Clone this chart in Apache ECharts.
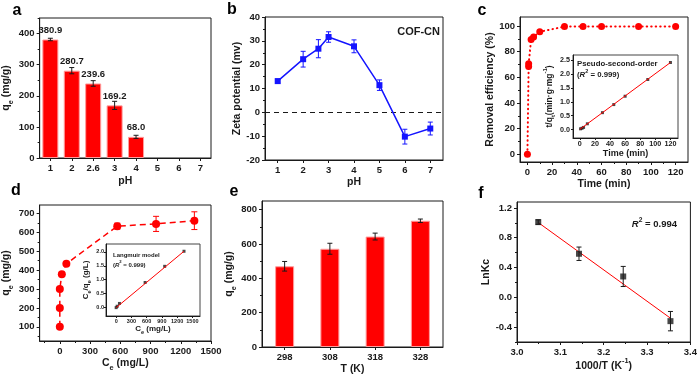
<!DOCTYPE html>
<html>
<head>
<meta charset="utf-8">
<script src="https://cdn.jsdelivr.net/npm/echarts@6/dist/echarts.min.js"></script>
<style>
  html, body { margin: 0; padding: 0; background: #fff; }
  #chart { width: 700px; height: 378px; }
</style>
</head>
<body>
<div id="chart"></div>
<script>
// values
const phLabels = ['1', '2', '2.6', '3', '4', '5', '6', '7'];
const qePh = [380.9, 280.7, 239.6, 169.2, 68.0];
const qePhErr = [4, 10, 9, 13, 5];

const zetaPh = [1, 2, 2.6, 3, 4, 5, 6, 7];
const zeta = [13.1, 22.3, 26.7, 31.6, 27.7, 11.4, -10.2, -6.8];
const zetaErr = [0.8, 3.3, 3.8, 2.2, 2.7, 2.2, 3.1, 2.7];

const kinTime = [0, 1, 1, 3, 5, 10, 30, 45, 60, 90, 120];
const kinRemoval = [0, 68.5, 70.5, 89.5, 91.5, 95.5, 99.5, 99.5, 99.5, 99.5, 99.5];

const psoTime = [1, 3, 5, 10, 30, 45, 60, 90, 120];
const psoTq = [0.03, 0.05, 0.08, 0.21, 0.61, 0.9, 1.2, 1.8, 2.41];
const psoFitX = [0, 120];
const psoFitY = [0.01, 2.41];

const isoCe = [0, 0, 0, 20, 65, 570, 955, 1335];
const isoQe = [100, 200, 300, 378, 434, 633, 645, 662];
const isoErr = [0, 0, 0, 0, 0, 16, 40, 47];

const lgCe = [0, 20, 65, 570, 955, 1335];
const lgRatio = [0, 0.05, 0.15, 0.9, 1.48, 2.02];
const lgFitX = [0, 1335];
const lgFitY = [0, 2.02];

const tempLabels = ['298', '308', '318', '328'];
const qeTemp = [470, 572, 643, 735];
const qeTempErr = [28, 32, 20, 10];

const invT = [3.049, 3.143, 3.245, 3.354];
const lnKc = [1.01, 0.585, 0.28, -0.32];
const lnKcErr = [0.03, 0.09, 0.135, 0.13];
const vhFitX = [3.05, 3.354];
const vhFitY = [1.0, -0.28];

// tick values
const aYTicks = [0, 100, 200, 300, 400];
const aYMinor = [50, 150, 250, 350, 450];
const bXTicks = [1, 2, 3, 4, 5, 6, 7];
const bYTicks = [-20, -10, 0, 10, 20, 30, 40];
const bYMinor = [-15, -5, 5, 15, 25, 35];
const cXTicks = [0, 20, 40, 60, 80, 100, 120];
const cXMinor = [10, 30, 50, 70, 90, 110];
const cYTicks = [0, 20, 40, 60, 80, 100];
const cYMinor = [10, 30, 50, 70, 90];
const ciXTicks = [0, 20, 40, 60, 80, 100, 120];
const ciYTicks = [0, 0.5, 1, 1.5, 2, 2.5];
const dXTicks = [0, 300, 600, 900, 1200, 1500];
const dXMinor = [-150, 150, 450, 750, 1050, 1350];
const dYTicks = [100, 200, 300, 400, 500, 600, 700];
const dYMinor = [50, 150, 250, 350, 450, 550, 650];
const diXTicks = [0, 300, 600, 900, 1200, 1500];
const diYTicks = [0, 0.5, 1, 1.5, 2];
const eYTicks = [0, 200, 400, 600, 800];
const eYMinor = [100, 300, 500, 700];
const fXTicks = [3.0, 3.1, 3.2, 3.3, 3.4];
const fXMinor = [3.05, 3.15, 3.25, 3.35];
const fYTicks = [-0.4, 0, 0.4, 0.8, 1.2];
const fYMinor = [-0.6, -0.2, 0.2, 0.6, 1.0];

const FONT = '"Liberation Sans", Arial, sans-serif';
const INK = '#1a1a1a';
const RED = '#ff0000';
const BLUE = '#1414ff';

const one = v => v.toFixed(1);
const plain = v => String(v);

function rich(fs) {
  const base = { fontFamily: FONT, fontWeight: 'bold', color: INK };
  return {
    n: Object.assign({}, base, { fontSize: fs, lineHeight: fs * 1.6 }),
    i: Object.assign({}, base, { fontSize: fs, lineHeight: fs * 1.6, fontStyle: 'italic' }),
    s: Object.assign({}, base, { fontSize: fs * 0.7, lineHeight: fs * 1.2, verticalAlign: 'bottom' }),
    p: Object.assign({}, base, { fontSize: fs * 0.7, lineHeight: fs * 1.2, verticalAlign: 'top' })
  };
}

const xAxes = [];
const yAxes = [];

function nameStyle(fs) {
  return { fontFamily: FONT, fontWeight: 'bold', fontSize: fs, color: INK, rich: rich(fs) };
}

function valAxis(list, grid, pos, min, max, ticks, o) {
  const fs = o.nameSize || 10.5;
  list.push({
    type: 'value', gridIndex: grid, position: pos, min: min, max: max,
    name: o.name || '', nameLocation: 'middle', nameGap: o.gap || 18,
    nameTextStyle: nameStyle(fs),
    axisLine: { show: true, onZero: false, lineStyle: { color: INK, width: 1 } },
    axisTick: { show: true, length: o.tick || 3, customValues: ticks, lineStyle: { color: INK, width: 1 } },
    axisLabel: {
      show: true, customValues: ticks, margin: o.margin || 5, formatter: o.fmt || plain,
      fontFamily: FONT, fontWeight: 'bold', fontSize: o.size || 9.5, color: INK
    },
    splitLine: { show: false }
  });
  const idx = list.length - 1;
  if (o.minor) {
    list.push({
      type: 'value', gridIndex: grid, position: pos, min: min, max: max,
      axisLine: { show: false, onZero: false }, splitLine: { show: false },
      axisLabel: { show: false, customValues: o.minor },
      axisTick: { show: true, length: 2, customValues: o.minor, lineStyle: { color: INK, width: 1 } }
    });
  }
  return idx;
}

function catAxis(grid, data, o) {
  xAxes.push({
    type: 'category', gridIndex: grid, position: 'bottom', data: data, boundaryGap: true,
    name: o.name, nameLocation: 'middle', nameGap: o.gap, nameTextStyle: nameStyle(10.5),
    axisLine: { show: true, onZero: false, lineStyle: { color: INK, width: 1 } },
    axisTick: { show: true, alignWithLabel: true, length: 3, lineStyle: { color: INK, width: 1 } },
    axisLabel: { interval: 0, margin: 5, fontFamily: FONT, fontWeight: 'bold', fontSize: 9.5, color: INK },
    splitLine: { show: false }
  });
  return xAxes.length - 1;
}

function errorBars(xi, yi, xs, ys, es, color, cap) {
  const pts = [];
  xs.forEach((x, i) => { if (es[i] > 0) pts.push([x, ys[i] - es[i], ys[i] + es[i]]); });
  return {
    type: 'custom', xAxisIndex: xi, yAxisIndex: yi, z: 4, silent: true,
    encode: { x: 0, y: [1, 2] },
    data: pts,
    renderItem: function (params, api) {
      const lo = api.coord([api.value(0), api.value(1)]);
      const hi = api.coord([api.value(0), api.value(2)]);
      const st = { stroke: color, lineWidth: 1 };
      return {
        type: 'group', children: [
          { type: 'line', shape: { x1: lo[0], y1: lo[1], x2: hi[0], y2: hi[1] }, style: st },
          { type: 'line', shape: { x1: lo[0] - cap, y1: lo[1], x2: lo[0] + cap, y2: lo[1] }, style: st },
          { type: 'line', shape: { x1: hi[0] - cap, y1: hi[1], x2: hi[0] + cap, y2: hi[1] }, style: st }
        ]
      };
    }
  };
}

const pairs = (xs, ys) => xs.map((x, i) => [x, ys[i]]);

// axes per panel
const XA = catAxis(0, phLabels, { name: '{n|pH}', gap: 15 });
const YA = valAxis(yAxes, 0, 'left', 0, 450, aYTicks, { name: '{n|q}{s|e}{n| (mg/g)}', gap: 15, minor: aYMinor });

const XB = valAxis(xAxes, 1, 'bottom', 0.5, 7.5, bXTicks, { name: '{n|pH}', gap: 14 });
const YB = valAxis(yAxes, 1, 'left', -20, 40, bYTicks, { name: '{n|Zeta potential (mv)}', gap: 19, minor: bYMinor });

const XC = valAxis(xAxes, 2, 'bottom', -6, 130, cXTicks, { name: '{n|Time (min)}', gap: 14, minor: cXMinor });
const YC = valAxis(yAxes, 2, 'left', -6, 107, cYTicks, { name: '{n|Removal efficiency (%)}', gap: 21, minor: cYMinor });

const XCI = valAxis(xAxes, 3, 'bottom', -9, 130, ciXTicks, { name: '{n|Time (min)}', gap: 4, size: 7.2, nameSize: 9, margin: 3, tick: 2 });
const YCI = valAxis(yAxes, 3, 'left', -0.3, 2.68, ciYTicks, { name: '{n|t/q}{s|t}{n|(min·g·mg}{p|-1}{n|)}', gap: 15, size: 7.2, nameSize: 8.5, margin: 3, tick: 2, fmt: one });

const XD = valAxis(xAxes, 4, 'bottom', -200, 1500, dXTicks, { name: '{n|C}{s|e}{n| (mg/L)}', gap: 14, minor: dXMinor });
const YD = valAxis(yAxes, 4, 'left', 25, 745, dYTicks, { name: '{n|q}{s|e}{n| (mg/g)}', gap: 16, minor: dYMinor });

const XDI = valAxis(xAxes, 5, 'bottom', -200, 1650, diXTicks, { name: '{n|C}{s|e}{n| (mg/L)}', gap: 4, size: 5.5, nameSize: 8, margin: 2, tick: 2 });
const YDI = valAxis(yAxes, 5, 'left', -0.3, 2.28, diYTicks, { name: '{n|C}{s|e}{n|/q}{s|e}{n| (g/L)}', gap: 7, size: 5.5, nameSize: 8, margin: 2, tick: 2, fmt: one });

const XE = catAxis(6, tempLabels, { name: '{n|T (K)}', gap: 14 });
const YE = valAxis(yAxes, 6, 'left', 0, 850, eYTicks, { name: '{n|q}{s|e}{n| (mg/g)}', gap: 19, minor: eYMinor });

const XF = valAxis(xAxes, 7, 'bottom', 3.0, 3.4, fXTicks, { name: '{n|1000/T (K}{p|-1}{n|)}', gap: 14, fmt: one, minor: fXMinor });
const YF = valAxis(yAxes, 7, 'left', -0.6, 1.28, fYTicks, { name: '{n|LnKc}', gap: 18, fmt: one, minor: fYMinor });

const frame = { show: true, borderColor: INK, borderWidth: 1, backgroundColor: 'transparent' };
const insetFrame = { show: true, borderColor: '#444', borderWidth: 1, backgroundColor: '#fff' };

const series = [
  // a
  {
    type: 'bar', xAxisIndex: XA, yAxisIndex: YA, data: qePh, barWidth: 16,
    itemStyle: { color: RED, borderColor: '#ff9c9c', borderWidth: 1 },
    label: {
      show: true, position: 'top', distance: 4, formatter: p => p.value.toFixed(1),
      fontFamily: FONT, fontWeight: 'bold', fontSize: 9.5, color: INK
    }
  },
  errorBars(XA, YA, qePh.map((v, i) => i), qePh, qePhErr, INK, 2.5),
  // b
  {
    type: 'line', xAxisIndex: XB, yAxisIndex: YB, data: pairs(zetaPh, zeta), z: 5,
    symbol: 'rect', symbolSize: 6, itemStyle: { color: BLUE }, lineStyle: { color: BLUE, width: 1.5 },
    markLine: {
      silent: true, symbol: 'none', label: { show: false },
      lineStyle: { color: INK, type: [5, 4], width: 1.2 }, data: [{ yAxis: 0 }]
    }
  },
  errorBars(XB, YB, zetaPh, zeta, zetaErr, BLUE, 2.5),
  // c
  {
    type: 'line', xAxisIndex: XC, yAxisIndex: YC, data: pairs(kinTime, kinRemoval),
    symbol: 'circle', symbolSize: 7, itemStyle: { color: RED },
    lineStyle: { color: RED, width: 2, type: [0.5, 4], cap: 'round' }
  },
  // c inset
  {
    type: 'line', xAxisIndex: XCI, yAxisIndex: YCI, data: pairs(psoFitX, psoFitY),
    symbol: 'none', lineStyle: { color: RED, width: 1 }
  },
  {
    type: 'scatter', xAxisIndex: XCI, yAxisIndex: YCI, data: pairs(psoTime, psoTq),
    symbol: 'rect', symbolSize: 3, itemStyle: { color: INK }
  },
  // d
  {
    type: 'line', xAxisIndex: XD, yAxisIndex: YD, data: pairs(isoCe, isoQe),
    symbol: 'circle', symbolSize: 8, itemStyle: { color: RED },
    lineStyle: { color: RED, width: 1.5, type: [6, 4] }
  },
  errorBars(XD, YD, isoCe, isoQe, isoErr, RED, 3),
  // d inset
  {
    type: 'line', xAxisIndex: XDI, yAxisIndex: YDI, data: pairs(lgFitX, lgFitY),
    symbol: 'none', lineStyle: { color: RED, width: 1 }
  },
  {
    type: 'scatter', xAxisIndex: XDI, yAxisIndex: YDI, data: pairs(lgCe, lgRatio),
    symbol: 'rect', symbolSize: 3, itemStyle: { color: INK }
  },
  // e
  {
    type: 'bar', xAxisIndex: XE, yAxisIndex: YE, data: qeTemp, barWidth: 19,
    itemStyle: { color: RED, borderColor: '#ff9c9c', borderWidth: 1 }
  },
  errorBars(XE, YE, qeTemp.map((v, i) => i), qeTemp, qeTempErr, INK, 2.5),
  // f
  {
    type: 'line', xAxisIndex: XF, yAxisIndex: YF, data: pairs(vhFitX, vhFitY),
    symbol: 'none', lineStyle: { color: RED, width: 1 }
  },
  errorBars(XF, YF, invT, lnKc, lnKcErr, INK, 2.5),
  {
    type: 'scatter', xAxisIndex: XF, yAxisIndex: YF, data: pairs(invT, lnKc), z: 5,
    symbol: 'rect', symbolSize: 6, itemStyle: { color: INK }
  }
];

function label(text, x, y, fs, align) {
  return {
    type: 'text', x: x, y: y, z: 100,
    style: { text: text, rich: rich(fs), fontFamily: FONT, fontWeight: 'bold', fontSize: fs, fill: INK, align: align || 'left', verticalAlign: 'middle' }
  };
}
function letter(t, x, y) {
  return {
    type: 'text', x: x, y: y, z: 100,
    style: { text: t, fontFamily: FONT, fontWeight: 'bold', fontSize: 16, fill: '#000', align: 'center', verticalAlign: 'middle' }
  };
}

const chart = echarts.init(document.getElementById('chart'), null, { renderer: 'canvas' });
chart.setOption({
  animation: false,
  backgroundColor: '#fff',
  grid: [
    Object.assign({ left: 36, top: 18, width: 175, height: 140 }, frame),
    Object.assign({ left: 265, top: 17, width: 178, height: 143 }, frame),
    Object.assign({ left: 520, top: 17, width: 168, height: 145 }, frame),
    Object.assign({ left: 573, top: 55, width: 105, height: 83 }, insetFrame),
    Object.assign({ left: 36, top: 205, width: 175, height: 136 }, frame),
    Object.assign({ left: 106, top: 244, width: 94, height: 72 }, insetFrame),
    Object.assign({ left: 262, top: 201, width: 181, height: 146 }, frame),
    Object.assign({ left: 517, top: 202, width: 176, height: 140 }, frame)
  ],
  xAxis: xAxes,
  yAxis: yAxes,
  series: series,
  graphic: [
    letter('a', 17, 11), letter('b', 232, 10), letter('c', 482, 11),
    letter('d', 16, 191), letter('e', 234, 192), letter('f', 481, 194),
    label('{n|COF-CN}', 440, 32, 11, 'right'),
    label('{n|Pseudo-second-order}', 577, 63.5, 7.8),
    label('{n|(}{i|R}{p|2}{n| = 0.999)}', 577, 75, 7.8),
    label('{n|Langmuir model}', 113, 255, 6),
    label('{n|(}{i|R}{p|2}{n| = 0.999)}', 113, 265, 6),
    label('{i|R}{p|2}{n| = 0.994}', 677, 224, 9.5, 'right')
  ]
});
</script>
</body>
</html>
